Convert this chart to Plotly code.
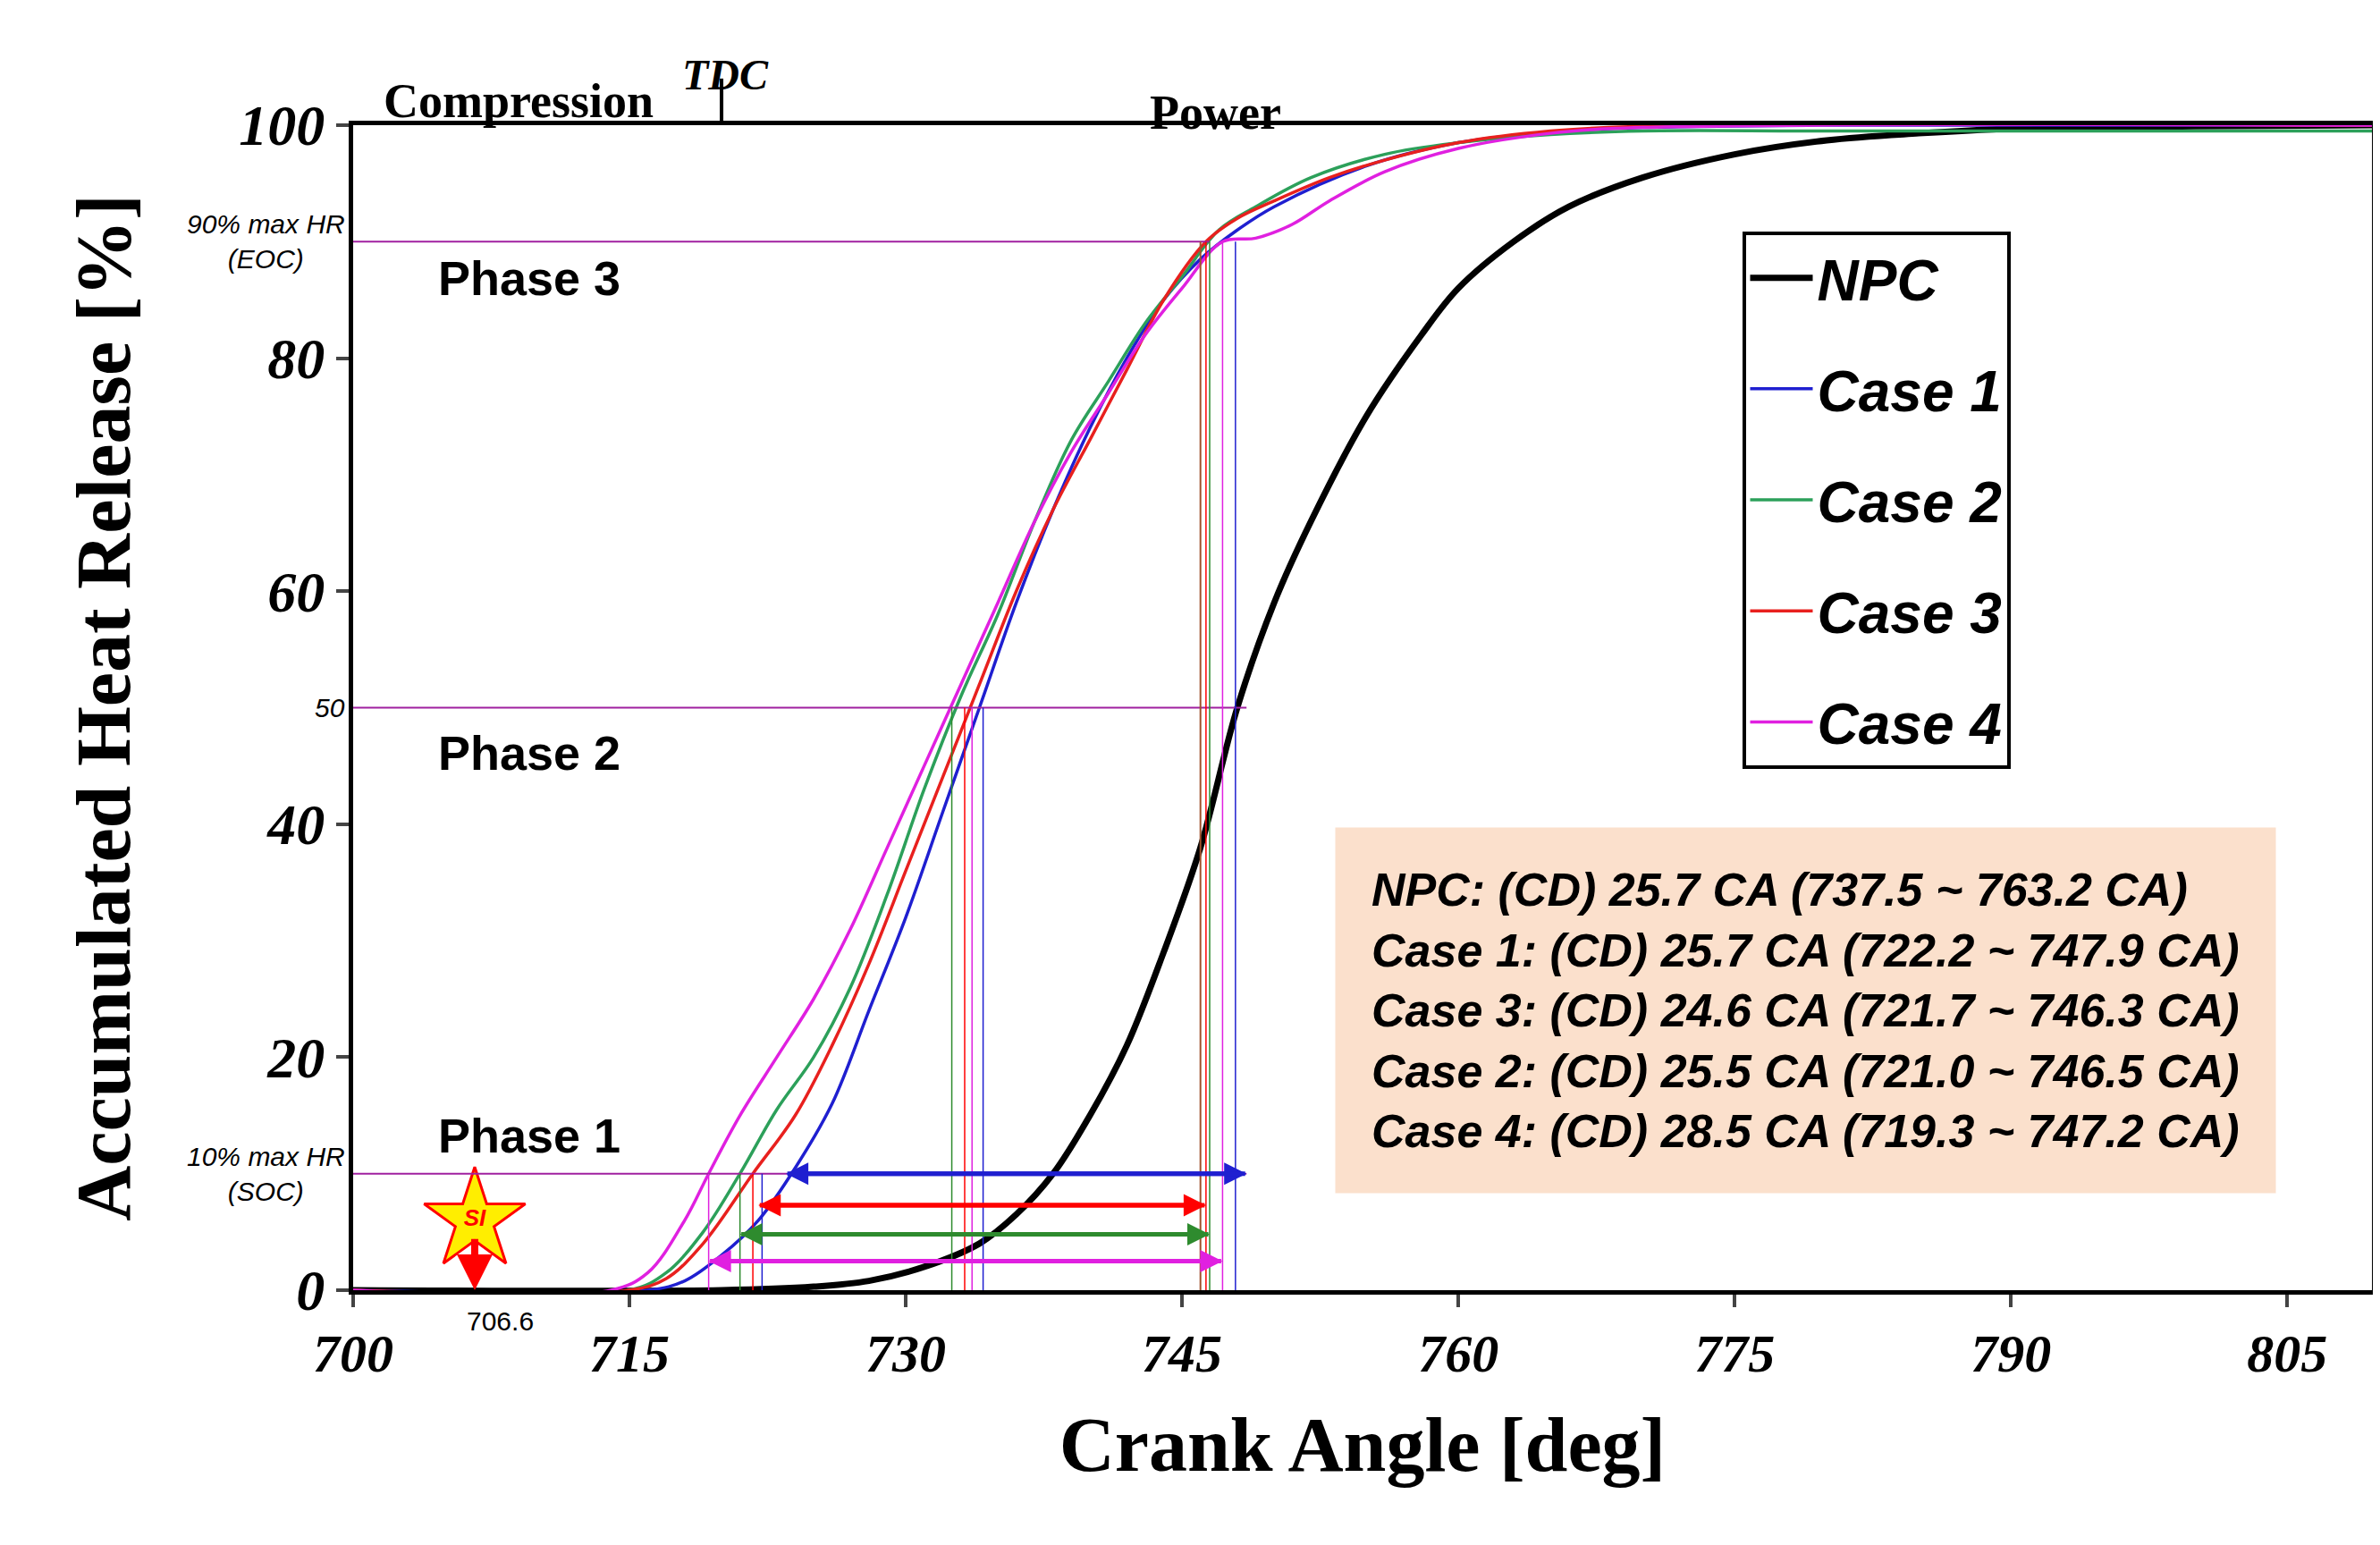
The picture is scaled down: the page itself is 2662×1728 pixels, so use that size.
import plotly.graph_objects as go

# crank angle [deg] and accumulated heat release [%]
npc_x = [700, 720, 725, 728, 731, 734, 736, 738, 740, 742, 744, 746, 748, 750, 752, 755, 758, 760, 763, 766, 770, 775, 780, 785, 790, 800, 809.6]
npc_y = [0, 0, 0.3, 0.8, 2, 4, 6.5, 10, 15, 21, 29, 38, 50, 59, 66, 75, 82, 86, 90, 93, 95.5, 97.5, 98.7, 99.3, 99.7, 99.9, 100]

c1_x = [700, 716, 718, 720, 722, 724, 726, 728, 730, 732, 734, 736, 738, 740, 742, 744, 746, 748, 750, 755, 760, 765, 770, 780, 809.6]
c1_y = [0, 0, 0.8, 3, 6, 10.5, 16, 24, 32, 41, 50, 59, 67, 74, 80, 85, 88.5, 91, 93, 96.5, 98.5, 99.4, 99.8, 100, 100]

c2_x = [700, 715, 717, 719, 721, 723, 725, 727, 729, 731, 733, 735, 737, 739, 741, 743, 745, 747, 749, 752, 756, 760, 765, 770, 780, 809.6]
c2_y = [0, 0, 1.5, 5, 10, 15.5, 20, 26, 34, 43, 51, 58, 66, 73, 78, 83, 87, 91, 93, 95.5, 97.5, 98.5, 99.2, 99.5, 99.5, 99.5]

c3_x = [700, 715, 717, 719, 721.7, 724, 726, 728, 730, 732, 734, 736, 738, 740, 742, 744, 746.3, 748, 750, 753, 756, 760, 765, 770, 809.6]
c3_y = [0, 0, 1, 4, 10, 15, 21, 28, 36, 44, 52, 60, 67, 73, 79, 85, 90, 92, 93.5, 95.5, 97, 98.5, 99.5, 99.9, 100]

c4_x = [700, 714, 716, 718, 719.3, 721, 723, 725, 727, 729, 731, 733, 735, 737, 739, 741, 743, 745, 747.2, 749, 751, 753, 756, 760, 765, 770, 809.6]
c4_y = [0, 0, 1.5, 6, 10, 15, 20, 25, 31, 38, 45, 52, 59, 66, 72, 77, 82, 86, 90, 90.3, 91.5, 93.5, 96, 98, 99.3, 99.8, 100]

legend_names = ["NPC", "Case 1", "Case 2", "Case 3", "Case 4"]
colors = ["black", "#1f1fd0", "#2ca05a", "#e8201e", "#e020e0"]

# combustion duration marks: start, end, arrow level
soc = [722.2, 721.0, 721.7, 719.3]
eoc = [747.9, 746.5, 746.3, 747.2]
arrow_y = [10, 4.8, 7.3, 2.5]
arrow_start = [723.5, 721.0, 722.0, 719.3]
arrow_end = [748.5, 746.5, 746.3, 747.2]
arrow_colors = ["#1f1fd0", "#2e8b2e", "#ff0000", "#e020e0"]
mid50 = [734.2, 732.5, 733.2, 733.6]

x_ticks = [700, 715, 730, 745, 760, 775, 790, 805]
y_ticks = [0, 20, 40, 60, 80, 100]

box_lines = [
    "NPC: (CD) 25.7 CA (737.5 ~ 763.2 CA)",
    "Case 1: (CD) 25.7 CA (722.2 ~ 747.9 CA)",
    "Case 3: (CD) 24.6 CA (721.7 ~ 746.3 CA)",
    "Case 2: (CD) 25.5 CA (721.0 ~ 746.5 CA)",
    "Case 4: (CD) 28.5 CA (719.3 ~ 747.2 CA)",
]

fig = go.Figure()
for xs, ys, name, c in zip([npc_x, c1_x, c2_x, c3_x, c4_x], [npc_y, c1_y, c2_y, c3_y, c4_y], legend_names, colors):
    fig.add_trace(go.Scatter(x=xs, y=ys, mode="lines", name="<b><i>%s</i></b>" % name, legendgroup=name,
                             line=dict(color=c, width=7 if name == "NPC" else 3.5, shape="spline")))

# guide lines
for lvl in [10, 50, 90]:
    fig.add_shape(type="line", x0=700, x1=748.5 if lvl != 90 else 746.5, y0=lvl, y1=lvl, line=dict(color="#a020a0", width=2))
for s, e, m, c in zip(soc, eoc, mid50, arrow_colors):
    fig.add_shape(type="line", x0=s, x1=s, y0=0, y1=10, line=dict(color=c, width=1.5))
    fig.add_shape(type="line", x0=e, x1=e, y0=0, y1=90, line=dict(color=c, width=1.5))
    fig.add_shape(type="line", x0=m, x1=m, y0=0, y1=50, line=dict(color=c, width=1.5))
fig.add_shape(type="line", x0=746.0, x1=746.0, y0=0, y1=90, line=dict(color="#a0522d", width=2))

for a, b, y, c in zip(arrow_start, arrow_end, arrow_y, arrow_colors):
    fig.add_annotation(x=b, y=y, ax=a, ay=y, xref="x", yref="y", axref="x", ayref="y", text="",
                       showarrow=True, arrowhead=2, arrowsize=1, arrowwidth=5, arrowcolor=c)
    fig.add_annotation(x=a, y=y, ax=b, ay=y, xref="x", yref="y", axref="x", ayref="y", text="",
                       showarrow=True, arrowhead=2, arrowsize=1, arrowwidth=5, arrowcolor=c)

# SI marker
fig.add_trace(go.Scatter(x=[706.6], y=[6], mode="markers+text", text=["<b><i>SI</i></b>"], showlegend=False,
                         marker=dict(symbol="star", size=85, color="#ffee00", line=dict(color="red", width=3)),
                         textfont=dict(family="Arial", size=26, color="red")))
fig.add_annotation(x=706.6, y=0, ax=706.6, ay=4.5, xref="x", yref="y", axref="x", ayref="y", text="",
                   showarrow=True, arrowhead=2, arrowwidth=8, arrowcolor="red")
fig.add_annotation(x=708, yref="paper", y=-0.012, text="706.6", showarrow=False, yanchor="top",
                   font=dict(family="Arial", size=30, color="black"))

phase_font = dict(family="Arial Black, Arial", size=54, color="black")
fig.add_annotation(x=704.5, y=89.3, text="<b>Phase 3</b>", showarrow=False, xanchor="left", yanchor="top", font=phase_font)
fig.add_annotation(x=704.5, y=48.6, text="<b>Phase 2</b>", showarrow=False, xanchor="left", yanchor="top", font=phase_font)
fig.add_annotation(x=704.5, y=10.8, text="<b>Phase 1</b>", showarrow=False, xanchor="left", yanchor="bottom", font=phase_font)

side_font = dict(family="Arial", size=30, color="black")
fig.add_annotation(xref="paper", x=-0.003, y=90, text="<i>90% max HR<br>(EOC)</i>", showarrow=False, xanchor="right", font=side_font)
fig.add_annotation(xref="paper", x=-0.003, y=50, text="<i>50</i>", showarrow=False, xanchor="right", font=side_font)
fig.add_annotation(xref="paper", x=-0.003, y=10, text="<i>10% max HR<br>(SOC)</i>", showarrow=False, xanchor="right", font=side_font)

top_font = dict(family="Liberation Serif", size=54, color="black")
fig.add_annotation(x=709, yref="paper", y=1.045, text="<b>Compression</b>", showarrow=False, font=top_font)
fig.add_annotation(x=720.2, yref="paper", y=1.065, text="<b><i>TDC</i></b>", showarrow=False,
                   font=dict(family="Liberation Serif", size=48, color="black"))
fig.add_shape(type="line", x0=720, x1=720, yref="paper", y0=1.0, y1=1.04, line=dict(color="black", width=4))
fig.add_annotation(x=746.8, yref="paper", y=1.035, text="<b>Power</b>", showarrow=False, font=top_font)

fig.add_annotation(x=753.3, y=24, xanchor="left", yanchor="middle", align="left", showarrow=False,
                   text="<br>".join("<b><i>%s</i></b>" % t for t in box_lines),
                   font=dict(family="Arial", size=52, color="black"), bgcolor="#fbe0cc",
                   borderpad=40)

fig.update_layout(
    width=2662, height=1728, plot_bgcolor="white", paper_bgcolor="white",
    margin=dict(l=387, r=17, t=132, b=293),
    legend=dict(x=0.688, y=0.909, xanchor="left", yanchor="top", bordercolor="black", borderwidth=4,
                font=dict(family="Arial", size=64, color="black"), itemwidth=70, traceorder="grouped",
                tracegroupgap=38, bgcolor="white"),
    xaxis=dict(range=[700, 809.6], tickvals=x_ticks, ticktext=["<b><i>%d</i></b>" % v for v in x_ticks],
               tickfont=dict(family="Liberation Serif", size=60, color="black"), ticks="outside", ticklen=14,
               tickwidth=4, showgrid=False, zeroline=False, showline=True, linecolor="black", linewidth=5, mirror=True,
               title=dict(text="<b>Crank Angle [deg]</b>", font=dict(family="Liberation Serif", size=86, color="black"), standoff=40)),
    yaxis=dict(range=[0, 100], tickvals=y_ticks, ticktext=["<b><i>%d</i></b>" % v for v in y_ticks],
               ticks="outside", ticklen=14, tickwidth=4,
               tickfont=dict(family="Liberation Serif", size=64, color="black"), showgrid=False, zeroline=False,
               showline=True, linecolor="black", linewidth=5, mirror=True,
               title=dict(text="<b>Accumulated Heat Release [%]</b>", font=dict(family="Liberation Serif", size=86, color="black"), standoff=95)),
)

fig.write_html("out.html")
